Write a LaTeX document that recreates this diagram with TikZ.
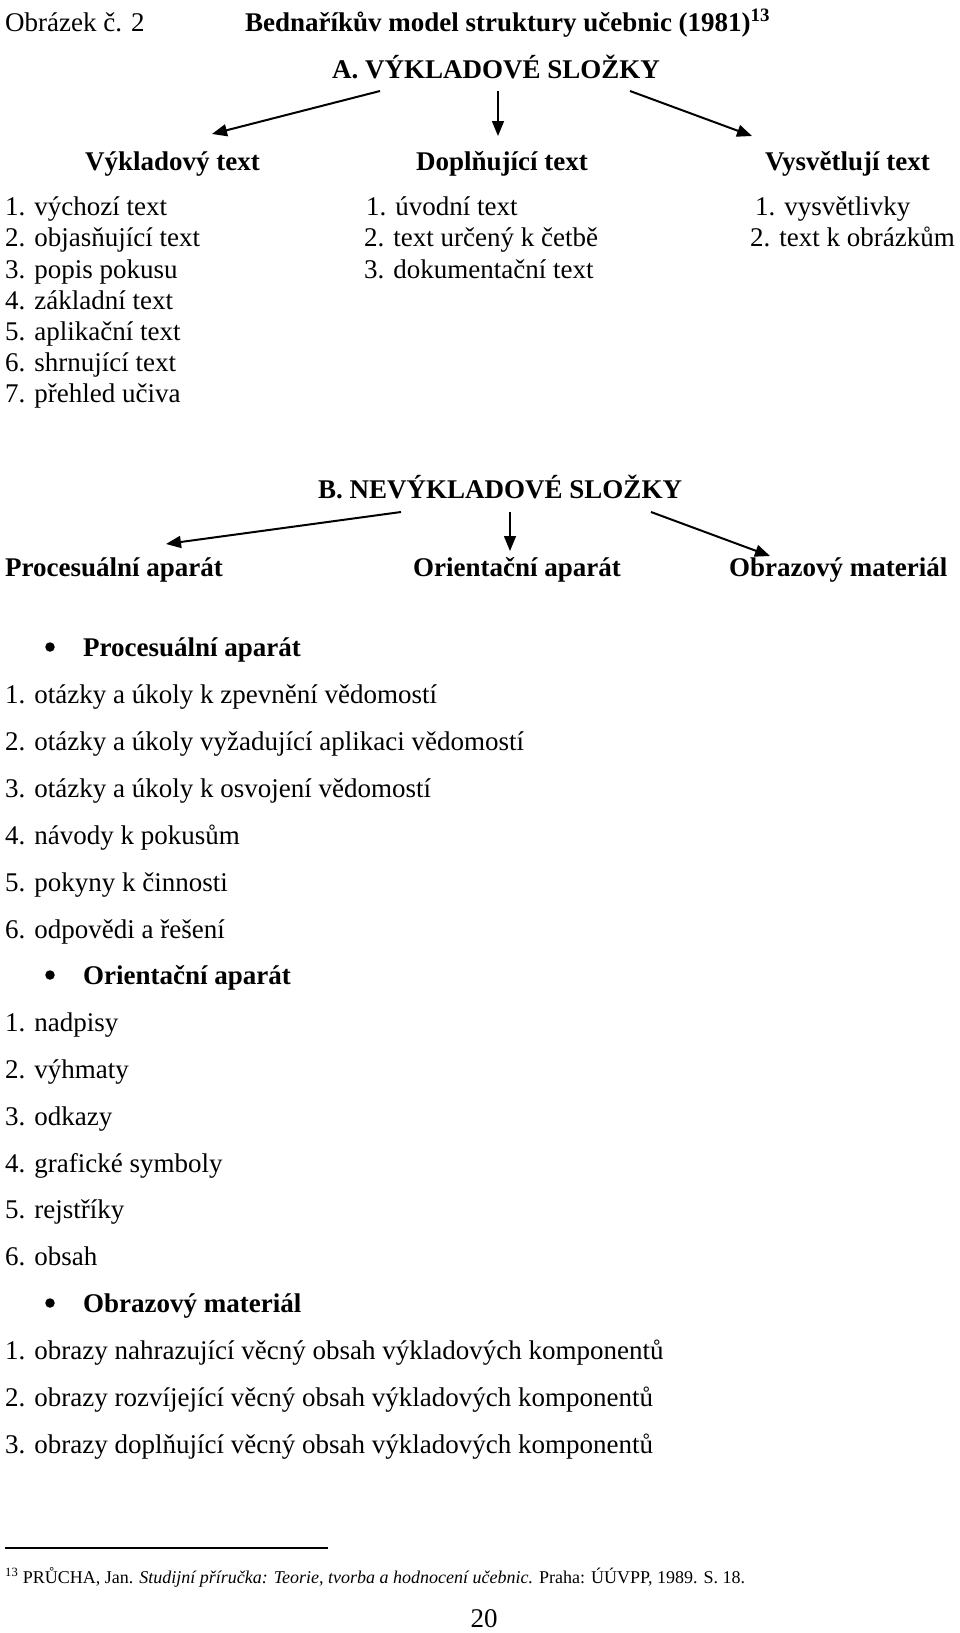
\documentclass[tikz,border=0pt]{standalone}
\usepackage{fontspec}
\setmainfont{Liberation Serif}
\usetikzlibrary{arrows.meta,positioning}

\begin{document}
\begin{tikzpicture}[x=1pt,y=-1pt,font=\fontsize{27}{32}\selectfont,
  txt/.style={anchor=base west,inner sep=0pt},
  hd/.style={anchor=base west,inner sep=0pt,font=\fontsize{27}{32}\selectfont\bfseries},
  arr/.style={-{Triangle[length=15pt,width=12pt]},line width=2pt},
  bul/.style={circle,fill,inner sep=0pt,minimum size=9.5pt}]
\useasboundingbox (0,0) rectangle (960,1633);
% title
\node[txt] (fig) at (5,31) {Obrázek č. 2};
\node[hd] (title) at (245,31) {Bednaříkův model struktury učebnic (1981)\textsuperscript{13}};
% A
\node[hd] (ahead) at (332,78) {A.\ VÝKLADOVÉ SLOŽKY};
\coordinate (a1s) at (380,91);  \coordinate (a1e) at (212,134);
\coordinate (a2s) at (498,91);  \coordinate (a2e) at (498,136);
\coordinate (a3s) at (630,91);  \coordinate (a3e) at (752,136);
\draw[arr] (a1s) -- (a1e);
\draw[arr,line width=1.5pt] (a2s) -- (a2e);
\draw[arr] (a3s) -- (a3e);
\node[hd] (vykl) at (85,170) {Výkladový text};
\node[hd] (dopl) at (416,170) {Doplňující text};
\node[hd] (vysv) at (765,170) {Vysvětlují text};
\node[txt] (v1) at (5,215) {1. výchozí text};
\node[txt] (v2) at (5,246) {2. objasňující text};
\node[txt] (v3) at (5,278) {3. popis pokusu};
\node[txt] (v4) at (5,309) {4. základní text};
\node[txt] (v5) at (5,340) {5. aplikační text};
\node[txt] (v6) at (5,371) {6. shrnující text};
\node[txt] (v7) at (5,402) {7. přehled učiva};
\node[txt] (d1) at (366,215) {1. úvodní text};
\node[txt] (d2) at (364,246) {2. text určený k četbě};
\node[txt] (d3) at (364,278) {3. dokumentační text};
\node[txt] (s1) at (755,215) {1. vysvětlivky};
\node[txt] (s2) at (750,246) {2. text k obrázkům};
% B
\node[hd] (bhead) at (318,498) {B. NEVÝKLADOVÉ SLOŽKY};
\coordinate (b1s) at (401,512);  \coordinate (b1e) at (166,544);
\coordinate (b2s) at (510,512);  \coordinate (b2e) at (510,551);
\coordinate (b3s) at (651,512);  \coordinate (b3e) at (770,556);
\draw[arr] (b1s) -- (b1e);
\draw[arr,line width=1.5pt] (b2s) -- (b2e);
\draw[arr] (b3s) -- (b3e);
\node[hd] (proc) at (5,576) {Procesuální aparát};
\node[hd] (orie) at (413,576) {Orientační aparát};
\node[hd] (obra) at (729,576) {Obrazový materiál};
% lists
\node[bul] (pb) at (50,647) {};
\node[hd] (ph) at (83,656) {Procesuální aparát};
\node[txt] (p1) at (5,703) {1. otázky a úkoly k zpevnění vědomostí};
\node[txt] (p2) at (5,750) {2. otázky a úkoly vyžadující aplikaci vědomostí};
\node[txt] (p3) at (5,797) {3. otázky a úkoly k osvojení vědomostí};
\node[txt] (p4) at (5,844) {4. návody k pokusům};
\node[txt] (p5) at (5,891) {5. pokyny k činnosti};
\node[txt] (p6) at (5,938) {6. odpovědi a řešení};
\node[bul] (ob) at (50,975) {};
\node[hd] (oh) at (83,984) {Orientační aparát};
\node[txt] (o1) at (5,1031) {1. nadpisy};
\node[txt] (o2) at (5,1078) {2. výhmaty};
\node[txt] (o3) at (5,1125) {3. odkazy};
\node[txt] (o4) at (5,1172) {4. grafické symboly};
\node[txt] (o5) at (5,1218) {5. rejstříky};
\node[txt] (o6) at (5,1265) {6. obsah};
\node[bul] (mb) at (50,1303) {};
\node[hd] (mh) at (83,1312) {Obrazový materiál};
\node[txt] (m1) at (5,1359) {1. obrazy nahrazující věcný obsah výkladových komponentů};
\node[txt] (m2) at (5,1406) {2. obrazy rozvíjející věcný obsah výkladových komponentů};
\node[txt] (m3) at (5,1453) {3. obrazy doplňující věcný obsah výkladových komponentů};
% footnote
\coordinate (fl) at (5,1548); \coordinate (fr) at (328,1548);
\draw[line width=1.2pt] (fl) -- (fr);
\node[txt,font=\fontsize{18}{22}\selectfont] (fn) at (5,1583) {\textsuperscript{13} PRŮCHA, Jan. \textit{Studijní příručka: Teorie, tvorba a hodnocení učebnic.} Praha: ÚÚVPP, 1989. S. 18.};
\node[anchor=base,inner sep=0pt] (page) at (484,1627) {20};
\end{tikzpicture}
\end{document}
